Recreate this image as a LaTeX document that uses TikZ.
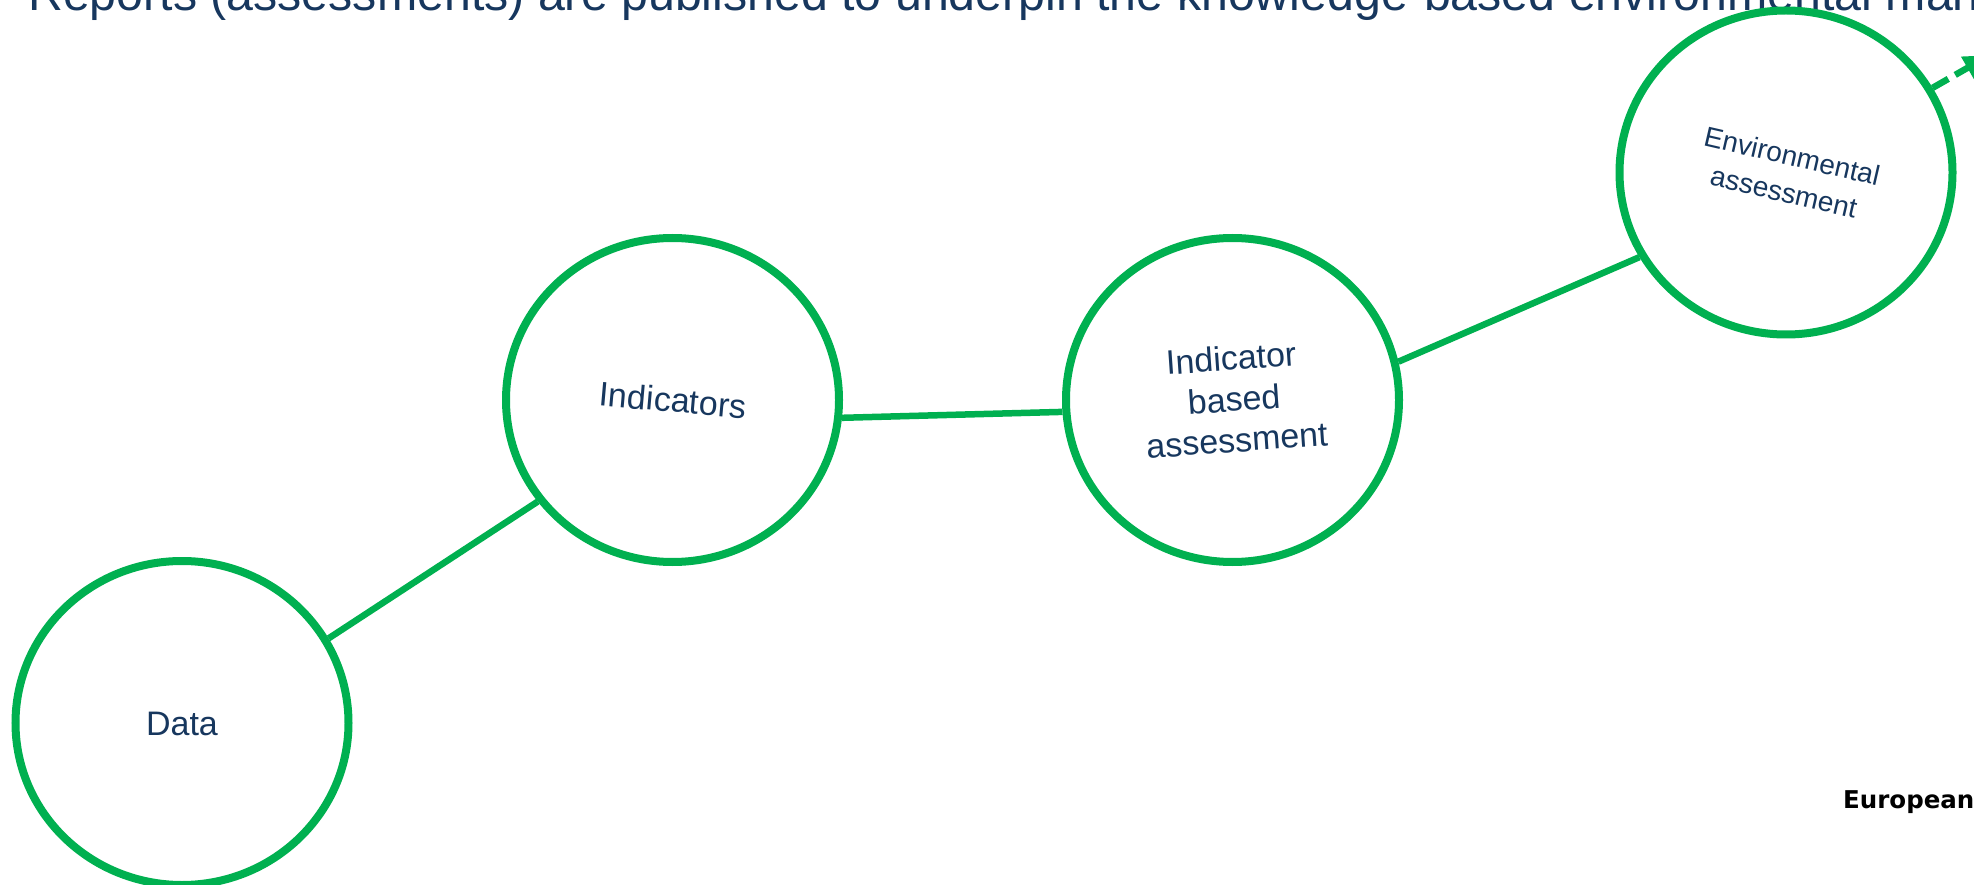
\documentclass[tikz,border=0pt]{standalone}
\usepackage{fontspec}
\setmainfont{Liberation Sans}
\newfontfamily\eeafont{DejaVu Sans}
\usetikzlibrary{shapes.geometric,arrows.meta}
\definecolor{eeagreen}{RGB}{0,176,80}
\definecolor{eeanavy}{RGB}{23,55,94}
\begin{document}
\begin{tikzpicture}[x=1pt,y=-1pt,
  ring/.style={ellipse,draw=eeagreen,fill=white,line width=8pt,minimum width=333pt,minimum height=324pt,inner sep=0pt},
  link/.style={draw=eeagreen,line width=6.5pt},
  ringtext/.style={text=eeanavy,font=\fontsize{34}{41}\selectfont,align=center,inner sep=0pt}]
\useasboundingbox (0,0) rectangle (1974,885);
\clip (0,0) rectangle (1974,885);
% title
\node[anchor=base west,text=eeanavy,font=\fontsize{48.3}{58}\selectfont,inner sep=0pt] (title) at (28,11)
  {Reports (assessments) are published to underpin the knowledge-based environmental management};
% rings
\node[ring] (data) at (182,723) {};
\node[ring] (ind) at (672.5,400) {};
\node[ring] (iba) at (1232.5,400) {};
\node[ring] (env) at (1786,172.5) {};
% texts
\node[ringtext] (tdata) at (182,724) {Data};
\node[ringtext,rotate=-5] (tind) at (673,400) {Indicators};
\node[ringtext,rotate=4] (tiba) at (1234,399) {Indicator\\based\\assessment};
\node[ringtext,font=\fontsize{28}{37}\selectfont,rotate=-13] (tenv) at (1788,174) {Environmental\\assessment};
% connectors
\draw[link] (data.30) -- (ind.217.6);
\draw[link] (ind.-6) -- (iba.184.4);
\draw[link] (iba.13) -- (env.210.2);
\coordinate (arrowend) at (1990,55);
\draw[link,dash pattern=on 18pt off 8pt,-{Triangle[length=26pt,width=24pt]}] (env.30.4) -- (arrowend);
% logo text
\node[anchor=base west,font=\eeafont\bfseries\fontsize{24.5}{29}\selectfont,inner sep=0pt] (eea) at (1843,808) {European};
\end{tikzpicture}
\end{document}
